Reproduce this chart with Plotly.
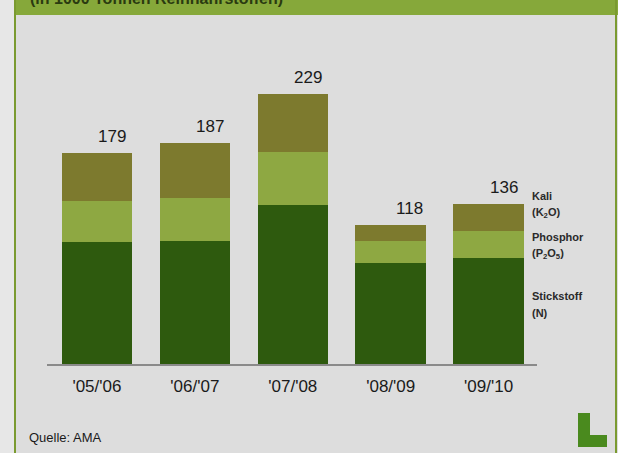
import plotly.graph_objects as go

W, H = 618, 453

categories = ["'05/'06", "'06/'07", "'07/'08", "'08/'09", "'09/'10"]
stickstoff = [103, 104, 135, 86, 90]
phosphor = [35, 37, 45, 18, 23]
kali = [41, 46, 49, 14, 23]
totals = [179, 187, 229, 118, 136]

col_n = "#2e5a0e"
col_p = "#8ea842"
col_k = "#7d7a2e"
band = "#86a83a"

def px(x):
    return x / W

def py(y):
    return 1 - y / H

fig = go.Figure()
fig.add_bar(x=categories, y=stickstoff, marker_color=col_n, width=0.72, marker_line_width=0, name="Stickstoff (N)")
fig.add_bar(x=categories, y=phosphor, marker_color=col_p, width=0.72, marker_line_width=0, name="Phosphor (P2O5)")
fig.add_bar(x=categories, y=kali, marker_color=col_k, width=0.72, marker_line_width=0, name="Kali (K2O)")

annotations = []
xsh = [15, 15, 15, 19, 15]
for c, t, s in zip(categories, totals, xsh):
    annotations.append(dict(x=c, y=t, text=str(t), showarrow=False, xref="x", yref="y",
                            yanchor="bottom", xshift=s, yshift=5,
                            font=dict(family="Liberation Sans, Arial", size=17, color="#1a1a1a")))

legend_items = [
    ("Kali", 196), ("(K<sub>2</sub>O)", 213),
    ("Phosphor", 237), ("(P<sub>2</sub>O<sub>5</sub>)", 254),
    ("Stickstoff", 296), ("(N)", 313),
]
for txt, yy in legend_items:
    annotations.append(dict(x=px(530), y=py(yy), xref="paper", yref="paper", text="<b>" + txt + "</b>",
                            showarrow=False, xanchor="left", yanchor="middle",
                            font=dict(family="Liberation Sans, Arial", size=11, color="#2a2a2a")))

annotations.append(dict(x=px(27), y=py(437), xref="paper", yref="paper", text="Quelle: AMA",
                        showarrow=False, xanchor="left", yanchor="middle",
                        font=dict(family="Liberation Sans, Arial", size=13, color="#1a1a1a")))

annotations.append(dict(x=px(28), y=py(-1), xref="paper", yref="paper",
                        text="<b>(in 1000 Tonnen Reinnährstoffen)</b>",
                        showarrow=False, xanchor="left", yanchor="middle",
                        font=dict(family="Liberation Sans, Arial", size=16, color="#2a3a10")))

shapes = [
    dict(type="rect", xref="paper", yref="paper", x0=0, x1=px(15), y0=0, y1=1,
         fillcolor="#e7e7e7", line_width=0, layer="below"),
    dict(type="rect", xref="paper", yref="paper", x0=px(15), x1=1, y0=py(15), y1=1,
         fillcolor=band, line_width=0, layer="below"),
    dict(type="line", xref="paper", yref="paper", x0=px(15), x1=px(15), y0=0, y1=1,
         line=dict(color="#7a9a30", width=2)),
    dict(type="line", xref="paper", yref="paper", x0=px(616), x1=px(616), y0=0, y1=1,
         line=dict(color="#7a9a30", width=2)),
    dict(type="path", xref="paper", yref="paper",
         path=("M {a},{b} L {c},{b} L {c},{d} L {e},{d} L {e},{f} L {a},{f} Z").format(
             a=px(578), b=py(413), c=px(590), d=py(435), e=px(607), f=py(447)),
         fillcolor="#4a8a1e", line_width=0),
]

fig.update_layout(
    width=W, height=H, barmode="stack",
    margin=dict(l=0, r=0, t=0, b=0),
    paper_bgcolor="#dddddd", plot_bgcolor="rgba(0,0,0,0)",
    showlegend=False, bargap=0.28,
    annotations=annotations, shapes=shapes,
    xaxis=dict(domain=[px(47), px(537)], range=[-0.51, 4.494], showline=True, linecolor="#8a8a8a",
               linewidth=1.5, ticks="", showgrid=False, zeroline=False, ticklabelstandoff=6,
               tickfont=dict(family="Liberation Sans, Arial", size=17, color="#1a1a1a")),
    yaxis=dict(domain=[py(364), py(64)], range=[0, 300 / 1.18], visible=False, showgrid=False),
)

fig.write_html("out.html", config={"displayModeBar": False},
               post_script="document.body.style.margin='0';document.body.style.overflow='hidden';")
